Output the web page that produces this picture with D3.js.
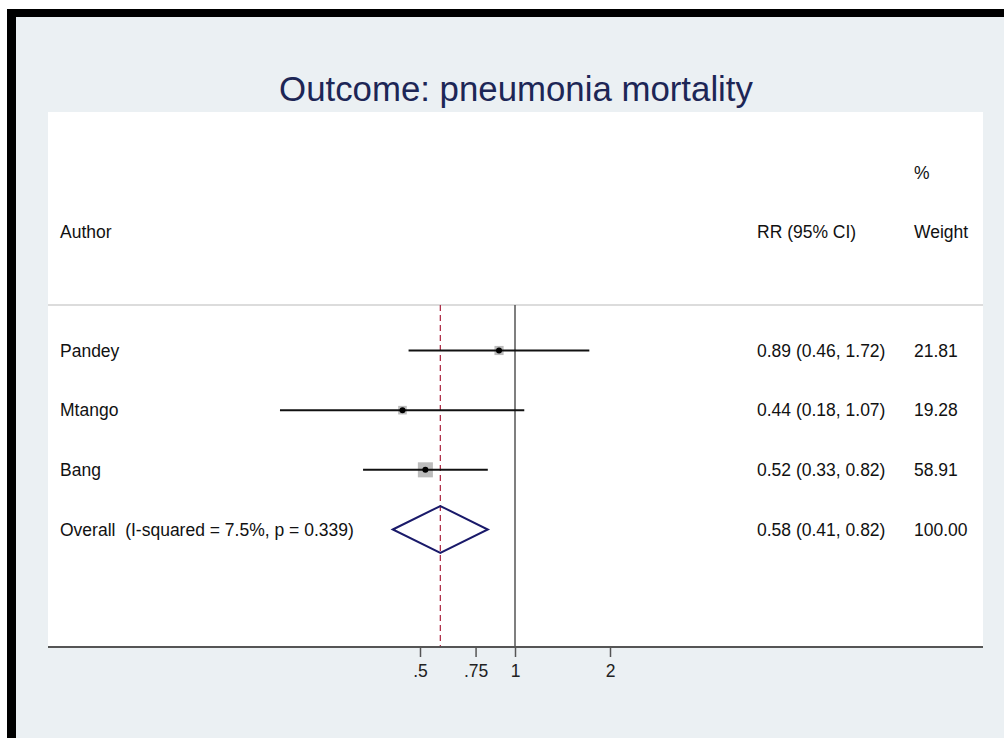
<!DOCTYPE html>
<html>
<head>
<meta charset="utf-8">
<script src="https://cdn.jsdelivr.net/npm/d3@7"></script>
<style>
  html, body { margin: 0; padding: 0; background: #ffffff; }
  svg { display: block; font-family: "Liberation Sans", Arial, Helvetica, sans-serif; }
  text { white-space: pre; }
</style>
</head>
<body>
<svg id="chart" width="1004" height="738"></svg>
<script>
// ---- data ----
const authors = ["Pandey", "Mtango", "Bang"];
const rr = [0.89, 0.44, 0.52];
const ciLow = [0.46, 0.18, 0.33];
const ciHigh = [1.72, 1.07, 0.82];
const weights = [21.81, 19.28, 58.91];
const rrText = ["0.89 (0.46, 1.72)", "0.44 (0.18, 1.07)", "0.52 (0.33, 0.82)"];
const weightText = ["21.81", "19.28", "58.91"];
const overallLabel = "Overall  (I-squared = 7.5%, p = 0.339)";
const overallRR = [0.58];
const overallLow = [0.41];
const overallHigh = [0.82];
const overallRRText = ["0.58 (0.41, 0.82)"];
const overallWeightText = ["100.00"];
const tickValues = [0.5, 0.75, 1, 2];
const tickLabels = [".5", ".75", "1", "2"];
const titleText = "Outcome: pneumonia mortality";

// ---- layout ----
const svg = d3.select("#chart");
const W = 1004, H = 738;
const bg = "#ebf0f3";
const plot = { left: 48, right: 983, top: 112, bottom: 647 };
const sepY = 305;

svg.append("rect").attr("x", 0).attr("y", 0).attr("width", W).attr("height", H).attr("fill", "#ffffff");
svg.append("rect").attr("x", 16).attr("y", 17).attr("width", W - 16).attr("height", H - 17).attr("fill", bg);
// black frame (top & left)
svg.append("rect").attr("x", 7).attr("y", 9).attr("width", W - 7).attr("height", 8).attr("fill", "#000");
svg.append("rect").attr("x", 7).attr("y", 9).attr("width", 9).attr("height", H - 9).attr("fill", "#000");

// white plot region
svg.append("rect").attr("x", plot.left).attr("y", plot.top)
  .attr("width", plot.right - plot.left).attr("height", plot.bottom - plot.top)
  .attr("fill", "#ffffff");

// title
svg.append("text").attr("x", 516).attr("y", 101).attr("text-anchor", "middle")
  .attr("font-size", 34.8).attr("fill", "#1d2656").text(titleText);

// scales
const x = d3.scaleLog().domain([0.5, 2]).range([420, 610]);
const rowNames = authors.concat(["Overall"]);
const y = d3.scalePoint().domain(rowNames).range([350.5, 529.5]);
const boxScale = d3.scaleSqrt().domain([0, 100]).range([0, 19.6]);

// separator
svg.append("line").attr("x1", plot.left).attr("x2", plot.right)
  .attr("y1", sepY).attr("y2", sepY).attr("stroke", "#dcdcdc").attr("stroke-width", 2);

// headers
const txtColor = "#111";
const fs = 17.5;
svg.append("text").attr("x", 60).attr("y", 238).attr("font-size", fs).attr("fill", txtColor).text("Author");
svg.append("text").attr("x", 757).attr("y", 238).attr("font-size", fs).attr("fill", txtColor).text("RR (95% CI)");
svg.append("text").attr("x", 914).attr("y", 179).attr("font-size", fs).attr("fill", txtColor).text("%");
svg.append("text").attr("x", 914).attr("y", 238).attr("font-size", fs).attr("fill", txtColor).text("Weight");

// reference line at 1
svg.append("line").attr("x1", x(1)).attr("x2", x(1)).attr("y1", sepY).attr("y2", plot.bottom)
  .attr("stroke", "#555").attr("stroke-width", 1.5);
// overall dashed line
svg.append("line").attr("x1", x(overallRR[0])).attr("x2", x(overallRR[0]))
  .attr("y1", sepY).attr("y2", plot.bottom)
  .attr("stroke", "#b0304a").attr("stroke-width", 1.3).attr("stroke-dasharray", "6,4");

// studies
const studies = authors.map((a, i) => ({ a, rr: rr[i], lo: ciLow[i], hi: ciHigh[i], w: weights[i], t: rrText[i], wt: weightText[i] }));
const g = svg.append("g");
studies.forEach(d => {
  const cy = y(d.a);
  const s = boxScale(d.w);
  g.append("rect").attr("x", x(d.rr) - s / 2).attr("y", cy - s / 2)
    .attr("width", s).attr("height", s).attr("fill", "#bcbcbc");
  g.append("line").attr("x1", x(d.lo)).attr("x2", x(d.hi)).attr("y1", cy).attr("y2", cy)
    .attr("stroke", "#111").attr("stroke-width", 2);
  g.append("circle").attr("cx", x(d.rr)).attr("cy", cy).attr("r", 3).attr("fill", "#000");
  g.append("text").attr("x", 60).attr("y", cy + 6).attr("font-size", fs).attr("fill", txtColor).text(d.a);
  g.append("text").attr("x", 757).attr("y", cy + 6).attr("font-size", fs).attr("fill", txtColor).text(d.t);
  g.append("text").attr("x", 914).attr("y", cy + 6).attr("font-size", fs).attr("fill", txtColor).text(d.wt);
});

// overall diamond
const oy = y("Overall");
const dh = 23.5;
const diamond = [[x(overallLow[0]), oy], [x(overallRR[0]), oy - dh], [x(overallHigh[0]), oy], [x(overallRR[0]), oy + dh]];
svg.append("path").attr("d", d3.line()(diamond) + "Z")
  .attr("fill", "none").attr("stroke", "#1a1a6a").attr("stroke-width", 2);
svg.append("text").attr("x", 60).attr("y", oy + 6).attr("font-size", fs).attr("fill", txtColor)
  .attr("xml:space", "preserve").text(overallLabel);
svg.append("text").attr("x", 757).attr("y", oy + 6).attr("font-size", fs).attr("fill", txtColor).text(overallRRText[0]);
svg.append("text").attr("x", 914).attr("y", oy + 6).attr("font-size", fs).attr("fill", txtColor).text(overallWeightText[0]);

// x axis
svg.append("line").attr("x1", plot.left).attr("x2", plot.right)
  .attr("y1", plot.bottom).attr("y2", plot.bottom).attr("stroke", "#555").attr("stroke-width", 2);
const axis = d3.axisBottom(x).tickValues(tickValues)
  .tickFormat((d, i) => tickLabels[i]).tickSize(10).tickPadding(8);
const ag = svg.append("g").attr("transform", `translate(0,${plot.bottom})`).call(axis);
ag.select(".domain").remove();
ag.selectAll(".tick line").attr("stroke", "#555").attr("stroke-width", 1.5);
ag.selectAll(".tick text").attr("font-size", fs).attr("fill", "#222")
  .attr("font-family", "'Liberation Sans', Arial, sans-serif");
</script>
</body>
</html>
